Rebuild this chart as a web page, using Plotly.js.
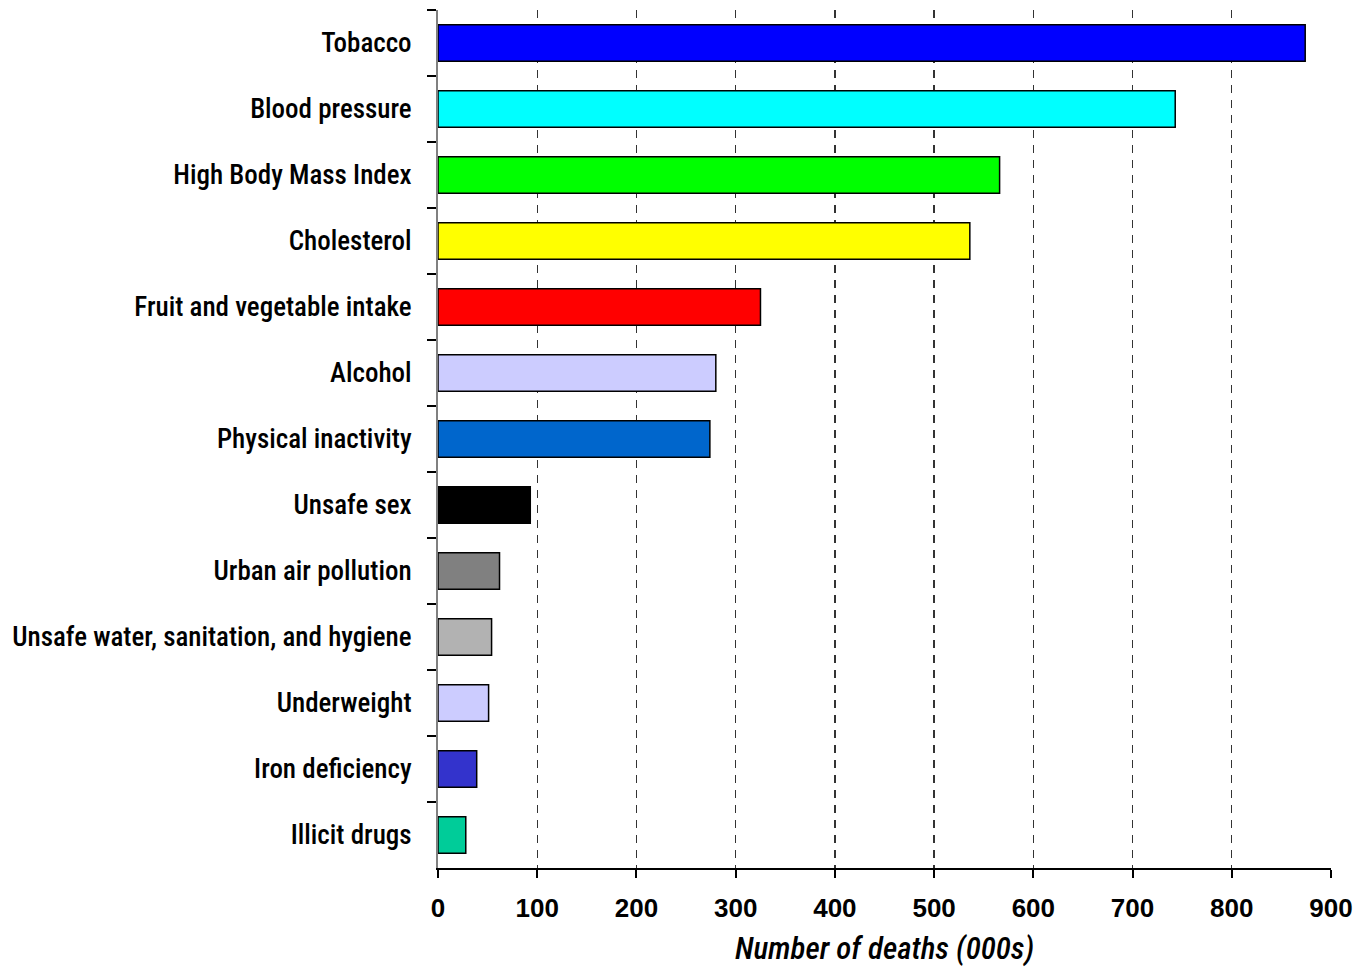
<!DOCTYPE html>
<html>
<head>
<meta charset="utf-8">
<script src="https://cdn.plot.ly/plotly-3.0.1.min.js"></script>
<style>html,body{margin:0;padding:0;background:#fff;}#chart{width:1358px;height:967px;}</style>
</head>
<body>
<div id="chart"></div>
<script>
const categories = ["Tobacco","Blood pressure","High Body Mass Index","Cholesterol","Fruit and vegetable intake","Alcohol","Physical inactivity","Unsafe sex","Urban air pollution","Unsafe water, sanitation, and hygiene","Underweight","Iron deficiency","Illicit drugs"];
const deaths = [874, 743, 566, 536, 325, 280, 274, 93, 62, 54, 51, 39, 28];
const barColors = ["#0000FF","#00FFFF","#00FF00","#FFFF00","#FF0000","#CCCCFF","#0066CC","#000000","#808080","#B2B2B2","#CCCCFF","#3333CC","#00CC99"];
const xTicks = [0,100,200,300,400,500,600,700,800,900];

const narrow = "'Roboto Condensed', 'DejaVu Sans Condensed', sans-serif";
const wide = "'Liberation Sans', Arial, sans-serif";

const trace = {
  type: "bar",
  orientation: "h",
  x: deaths,
  y: categories,
  width: 0.55,
  marker: {color: barColors, line: {color: "#000000", width: 1.5}},
  hoverinfo: "x+y"
};

const layout = {
  width: 1358, height: 967,
  margin: {l: 438, r: 27, t: 10, b: 99, pad: 0},
  paper_bgcolor: "#ffffff", plot_bgcolor: "#ffffff",
  showlegend: false,
  font: {family: narrow, color: "#000000"},
  xaxis: {
    range: [0, 900],
    tickvals: xTicks,
    ticktext: xTicks.map(String),
    showgrid: true, gridcolor: "#333333", griddash: "8px,7px", gridwidth: 1.3,
    zeroline: false,
    showline: true, linecolor: "#000000", linewidth: 2,
    ticks: "outside", ticklen: 8, tickwidth: 2, tickcolor: "#000000",
    ticklabelstandoff: 8,
    tickfont: {family: wide, size: 26, color: "#000000", weight: "bold"},
    title: {text: "Number of deaths (000s)", font: {family: narrow, size: 31, color: "#000000", style: "italic", weight: 500}, standoff: 18},
    fixedrange: true
  },
  yaxis: {
    type: "category",
    autorange: "reversed",
    tickson: "boundaries",
    showgrid: false, zeroline: false,
    showline: true, linecolor: "#808080", linewidth: 2,
    ticks: "outside", ticklen: 9, tickwidth: 1.3, tickcolor: "#000000",
    ticklabelstandoff: 19,
    tickfont: {family: narrow, size: 27, color: "#000000", weight: 500},
    fixedrange: true
  }
};

Plotly.newPlot("chart", [trace], layout, {displayModeBar: false, staticPlot: true});
</script>
</body>
</html>
